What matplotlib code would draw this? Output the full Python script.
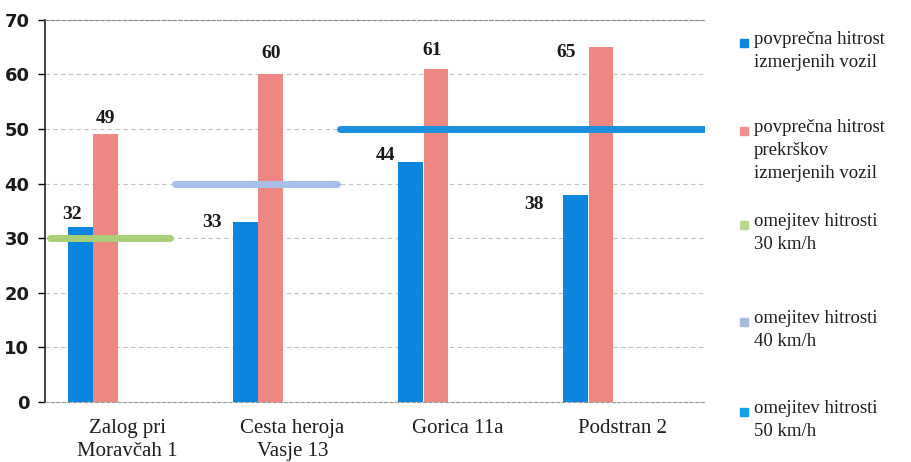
import numpy as np
import matplotlib.pyplot as plt
from matplotlib.patches import Rectangle

categories = ["Zalog pri\nMoravčah 1", "Cesta heroja\nVasje 13", "Gorica 11a", "Podstran 2"]
avg_speed = [32, 33, 44, 38]
avg_violation = [49, 60, 61, 65]
limits = [30, 40, 50]
legend_labels = [
    "povprečna hitrost\nizmerjenih vozil",
    "povprečna hitrost\nprekrškov\nizmerjenih vozil",
    "omejitev hitrosti\n30 km/h",
    "omejitev hitrosti\n40 km/h",
    "omejitev hitrosti\n50 km/h",
]

c_blue = "#0a86de"
c_red = "#ee8682"
c_lim = ["#a9cf78", "#a6c0ea", "#1a90dc"]
c_leg = [c_blue, "#f09090", "#b8d890", "#a8bce0", "#12a2ea"]

# x span of each limit line (category units)
lim_span = [(-0.47, 0.26), (0.29, 1.27), (1.29, 3.5)]
# label offsets relative to bar top (dx, dy)
blue_off = [(-0.05, 2.3), (-0.2, -0.2), (-0.15, 1.1), (-0.25, -1.9)]
red_off = [(0.0, 2.9), (0.0, 3.8), (-0.02, 3.3), (-0.21, -0.9)]

plt.rcParams["font.family"] = ["Liberation Serif", "DejaVu Serif"]

fig = plt.figure(figsize=(9.12, 4.62), dpi=100)
ax = fig.add_axes([0.049, 0.13, 0.724, 0.827])

x = np.arange(len(categories))
w = 0.15
xb = x - 0.285
xr = x - 0.13
ax.bar(xb, avg_speed, w, color=c_blue, zorder=3)
ax.bar(xr, avg_violation, w, color=c_red, zorder=3)

for (x0, x1), v, c in zip(lim_span, limits, c_lim):
    ax.plot([x0, x1], [v, v], color=c, lw=5, solid_capstyle="round", zorder=4)

for xi, v, (dx, dy) in zip(xb, avg_speed, blue_off):
    ax.text(xi + dx, v + dy, str(v), ha="center", va="center",
            fontsize=14, fontweight="bold", color="#1a1a1a", zorder=5)
for xi, v, (dx, dy) in zip(xr, avg_violation, red_off):
    ax.text(xi + dx, v + dy, str(v), ha="center", va="center",
            fontsize=14, fontweight="bold", color="#1a1a1a", zorder=5)

ax.set_xlim(-0.5, 3.5)
ax.set_ylim(0, 70)
ax.set_yticks(range(0, 71, 10))
ax.set_xticks(x)
ax.set_xticklabels(categories, fontsize=15, color="#1e1e1e", linespacing=1.3)
ax.tick_params(axis="x", length=0, pad=12)
ax.tick_params(axis="y", length=5, width=1, pad=6, labelsize=13, labelcolor="#1a1a1a")
for lab in ax.get_yticklabels():
    lab.set_fontweight("bold")
    lab.set_family(["DejaVu Sans"])

ax.grid(axis="y", color="#c4c4c4", linestyle=(0, (4, 3)), lw=0.8, zorder=0)
ax.spines["left"].set_color("#222222")
ax.spines["left"].set_linewidth(1.2)
ax.spines["right"].set_visible(False)
ax.spines["top"].set_color("#888888")
ax.spines["top"].set_linestyle((0, (3, 2)))
ax.spines["bottom"].set_color("#999999")
ax.spines["bottom"].set_linestyle((0, (3, 2)))

# legend drawn by hand to keep the wide spacing of the original
leg_y = [43, 131, 225, 322, 412]
for y, lab, c in zip(leg_y, legend_labels, c_leg):
    fy = 1 - y / 462
    fig.patches.append(Rectangle((740 / 912, fy - 4 / 462), 8 / 912, 8 / 462,
                                 transform=fig.transFigure, color=c))
    fig.text(754 / 912, fy + 12 / 462, lab, ha="left", va="top",
             fontsize=13.5, color="#1e1e1e", linespacing=1.45)

fig.savefig("out.png", dpi=100)
